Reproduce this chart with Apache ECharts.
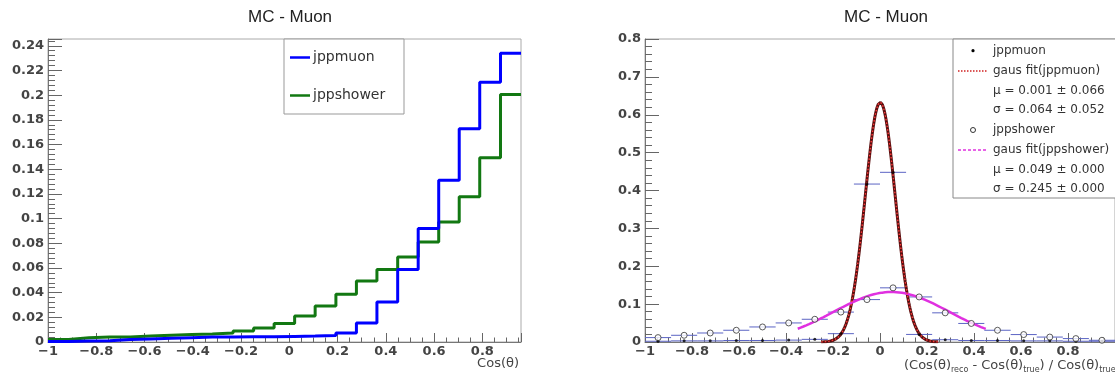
<!DOCTYPE html>
<html><head><meta charset="utf-8">
<script src="https://cdn.jsdelivr.net/npm/echarts@6/dist/echarts.min.js"></script>
<style>html,body{margin:0;padding:0;background:#fff}#c{width:1115px;height:376px}</style>
</head><body><div id="c"></div>
<script>
// ---------- Left panel: Cos(theta) histograms (23 bins) ----------
const histEdges = [-1, -0.915, -0.830, -0.744, -0.659, -0.574, -0.489, -0.404, -0.319, -0.233,
  -0.148, -0.063, 0.022, 0.107, 0.193, 0.278, 0.363, 0.449, 0.534, 0.619, 0.704, 0.789, 0.875, 0.96];
const jppmuonHist = [0.0005, 0.0008, 0.001, 0.002, 0.0025, 0.003, 0.0035, 0.004, 0.004, 0.0042,
  0.0042, 0.0045, 0.0048, 0.0052, 0.0073, 0.0154, 0.0324, 0.0587, 0.092, 0.1311, 0.1728, 0.2104, 0.2339];
const jppshowerHist = [0.002, 0.0035, 0.004, 0.004, 0.0048, 0.0055, 0.006, 0.0065, 0.0073, 0.009,
  0.0114, 0.0149, 0.0211, 0.0292, 0.0387, 0.0495, 0.0587, 0.0689, 0.0811, 0.0973, 0.1176, 0.1492, 0.2006];

// ---------- Right panel: resolution (18 bins) ----------
const resEdges = [-1, -0.889, -0.778, -0.667, -0.556, -0.444, -0.333, -0.222, -0.111, 0,
  0.111, 0.222, 0.333, 0.444, 0.556, 0.667, 0.778, 0.889, 1];
const resMuon = [0.002, 0.003, 0.003, 0.004, 0.004, 0.005, 0.007, 0.022, 0.417,
  0.448, 0.020, 0.006, 0.004, 0.004, 0.003, 0.003, 0.002, 0.002];
const resShower = [0.0116, 0.0177, 0.0238, 0.031, 0.0397, 0.0503, 0.060, 0.079, 0.112,
  0.143, 0.119, 0.077, 0.049, 0.031, 0.0196, 0.013, 0.009, 0.0045];

// Gaussian fit parameters (as printed in the legend) and fit ranges
const muonFit = {amp: 0.633, mu: 0.001, sigma: 0.064, from: -0.25, to: 0.25};
const showerFit = {amp: 0.132, mu: 0.049, sigma: 0.245, from: -0.35, to: 0.45};

const legendRight = ['jppmuon', 'gaus fit(jppmuon)', 'μ = 0.001 ± 0.066', 'σ = 0.064 ± 0.052',
  'jppshower', 'gaus fit(jppshower)', 'μ = 0.049 ± 0.000', 'σ = 0.245 ± 0.000'];
const legendLeft = ['jppmuon', 'jppshower'];
const titles = ['MC - Muon', 'MC - Muon'];

// ---------- helpers ----------
function stepData(edges, vals) {
  const d = vals.map((v, i) => [edges[i], v]);
  d.push([edges[edges.length - 1], vals[vals.length - 1]]);
  return d;
}
function centers(edges) { return edges.slice(0, -1).map((e, i) => (e + edges[i + 1]) / 2); }
function gaussCurve(p) {
  const pts = [];
  const n = 200;
  for (let i = 0; i <= n; i++) {
    const x = p.from + (p.to - p.from) * i / n;
    pts.push([x, p.amp * Math.exp(-Math.pow(x - p.mu, 2) / (2 * p.sigma * p.sigma))]);
  }
  return pts;
}
function fmt(v) {
  const r = +(+v).toFixed(3);
  return (r < 0 ? '\u2212' : '') + String(Math.abs(r));
}
const resCenters = centers(resEdges);
const errBarData = (vals) => vals.map((v, i) => [resEdges[i], resEdges[i + 1], v]);

const FONT = 'DejaVu Sans';
const labelStyle = {fontFamily: FONT, fontSize: 13, fontWeight: 'bold', color: '#444'};

function xAxisCfg(gi, min, max) {
  return {
    type: 'value', gridIndex: gi, min: min, max: max, interval: 0.2,
    axisLine: {show: true, onZero: false, lineStyle: {color: '#777', width: 1}},
    axisTick: {show: true, inside: true, length: 9, lineStyle: {color: '#666'}},
    minorTick: {show: true, splitNumber: 4, length: 4.5, lineStyle: {color: '#666'}},
    splitLine: {show: false},
    axisLabel: Object.assign({margin: 3, showMaxLabel: false, formatter: fmt}, labelStyle)
  };
}
function yAxisCfg(gi, max, interval, showMax) {
  return {
    type: 'value', gridIndex: gi, min: 0, max: max, interval: interval,
    axisLine: {show: true, onZero: false, lineStyle: {color: '#777', width: 1}},
    axisTick: {show: true, inside: true, length: 14, lineStyle: {color: '#666'}},
    minorTick: {show: true, splitNumber: 5, length: 7, lineStyle: {color: '#666'}},
    splitLine: {show: false},
    axisLabel: Object.assign({margin: 4, showMaxLabel: showMax, formatter: fmt}, labelStyle)
  };
}

const errBarSeries = (vals, color) => ({
  type: 'custom', xAxisIndex: 1, yAxisIndex: 1, data: errBarData(vals), z: 3, silent: true,
  renderItem: function (params, api) {
    const a = api.coord([api.value(0), api.value(2)]);
    const b = api.coord([api.value(1), api.value(2)]);
    return {type: 'line', shape: {x1: a[0], y1: a[1], x2: b[0], y2: b[1]},
      style: {stroke: color, lineWidth: 1}};
  }
});

const chart = echarts.init(document.getElementById('c'), null, {renderer: 'canvas'});

// legend graphics
const g = [];
// left legend
g.push({type: 'rect', shape: {x: 284, y: 39, width: 120, height: 75}, style: {fill: '#fff', stroke: '#999', lineWidth: 1}, z: 50});
g.push({type: 'line', shape: {x1: 290, y1: 57.5, x2: 310, y2: 57.5}, style: {stroke: '#0000ff', lineWidth: 2.5}, z: 51});
g.push({type: 'line', shape: {x1: 290, y1: 95.5, x2: 310, y2: 95.5}, style: {stroke: '#127812', lineWidth: 2.5}, z: 51});
g.push({type: 'text', x: 313, y: 57.5, style: {text: legendLeft[0], fontFamily: FONT, fontSize: 14, fill: '#333', verticalAlign: 'middle'}, z: 51});
g.push({type: 'text', x: 313, y: 95.5, style: {text: legendLeft[1], fontFamily: FONT, fontSize: 14, fill: '#333', verticalAlign: 'middle'}, z: 51});
// right legend
g.push({type: 'rect', shape: {x: 953, y: 39, width: 175, height: 159}, style: {fill: '#fff', stroke: '#888', lineWidth: 1}, z: 50});
const rowY = [50.7, 71, 90.7, 110, 130, 150, 169.5, 189.3];
legendRight.forEach((t, i) => {
  g.push({type: 'text', x: 993, y: rowY[i], style: {text: t, fontFamily: FONT, fontSize: 12, fill: '#333', verticalAlign: 'middle'}, z: 51});
});
g.push({type: 'circle', shape: {cx: 973, cy: rowY[0], r: 1.6}, style: {fill: '#000'}, z: 51});
g.push({type: 'line', shape: {x1: 958, y1: rowY[1], x2: 988, y2: rowY[1]}, style: {stroke: '#d02020', lineWidth: 1.5, lineDash: [1.5, 1.5]}, z: 51});
g.push({type: 'circle', shape: {cx: 973, cy: rowY[4], r: 2.5}, style: {fill: 'none', stroke: '#333', lineWidth: 1}, z: 51});
g.push({type: 'line', shape: {x1: 958, y1: rowY[5], x2: 988, y2: rowY[5]}, style: {stroke: '#e030e0', lineWidth: 1.5, lineDash: [3, 2]}, z: 51});
// axis titles
g.push({type: 'text', x: 519, y: 364, style: {text: 'Cos(θ)', fontFamily: FONT, fontSize: 13, fill: '#444', align: 'right', verticalAlign: 'middle'}, z: 51});
g.push({type: 'text', x: 904, y: 366, style: {
  text: '{n|(Cos(θ)}{s|reco}{n| - Cos(θ)}{s|true}{n|) / Cos(θ)}{s|true}',
  rich: {n: {fontFamily: FONT, fontSize: 13, fill: '#444', color: '#444'},
         s: {fontFamily: FONT, fontSize: 8, fill: '#444', color: '#444', padding: [7, 0, 0, 0]}},
  verticalAlign: 'middle'}, z: 51});

const option = {
  animation: false,
  backgroundColor: '#fff',
  title: [
    {text: titles[0], left: 285, top: 4, textAlign: 'center', textStyle: {fontFamily: 'Liberation Sans', fontSize: 17, fontWeight: 'normal', color: '#222'}},
    {text: titles[1], left: 881, top: 4, textAlign: 'center', textStyle: {fontFamily: 'Liberation Sans', fontSize: 17, fontWeight: 'normal', color: '#222'}}
  ],
  grid: [
    {left: 48, top: 39, width: 473, height: 303, show: true, borderColor: '#aaa', borderWidth: 1, backgroundColor: 'transparent'},
    {left: 645, top: 39, width: 478, height: 303, show: true, borderColor: '#aaa', borderWidth: 1, backgroundColor: 'transparent'}
  ],
  xAxis: [xAxisCfg(0, -1, 0.96), xAxisCfg(1, -1, 1)],
  yAxis: [yAxisCfg(0, 0.2455, 0.02, false), yAxisCfg(1, 0.8, 0.1, true)],
  graphic: g,
  series: [
    {name: 'jppshower', type: 'line', xAxisIndex: 0, yAxisIndex: 0, step: 'end', showSymbol: false,
      data: stepData(histEdges, jppshowerHist), lineStyle: {color: '#127812', width: 3}, z: 4},
    {name: 'jppmuon', type: 'line', xAxisIndex: 0, yAxisIndex: 0, step: 'end', showSymbol: false,
      data: stepData(histEdges, jppmuonHist), lineStyle: {color: '#0000ff', width: 3}, z: 5},

    errBarSeries(resMuon, '#5b64c4'),
    errBarSeries(resShower, '#5b64c4'),
    {name: 'gaus fit(jppmuon) base', type: 'line', xAxisIndex: 1, yAxisIndex: 1, showSymbol: false, smooth: false,
      data: gaussCurve(muonFit), lineStyle: {color: '#5a1010', width: 3}, z: 6},
    {name: 'gaus fit(jppmuon)', type: 'line', xAxisIndex: 1, yAxisIndex: 1, showSymbol: false,
      data: gaussCurve(muonFit), lineStyle: {color: '#ff3a3a', width: 1.4, type: [1.5, 2]}, z: 7},
    {name: 'gaus fit(jppshower)', type: 'line', xAxisIndex: 1, yAxisIndex: 1, showSymbol: false,
      data: gaussCurve(showerFit), lineStyle: {color: '#e030e0', width: 2.5}, z: 6},
    {name: 'jppmuon', type: 'scatter', xAxisIndex: 1, yAxisIndex: 1, symbol: 'circle', symbolSize: 3,
      data: resCenters.map((c, i) => [c, resMuon[i]]), itemStyle: {color: '#000'}, z: 8},
    {name: 'jppshower', type: 'scatter', xAxisIndex: 1, yAxisIndex: 1, symbol: 'circle', symbolSize: 6,
      data: resCenters.map((c, i) => [c, resShower[i]]), itemStyle: {color: '#fff', borderColor: '#333', borderWidth: 1}, z: 8}
  ]
};
chart.setOption(option);
</script>
</body></html>
